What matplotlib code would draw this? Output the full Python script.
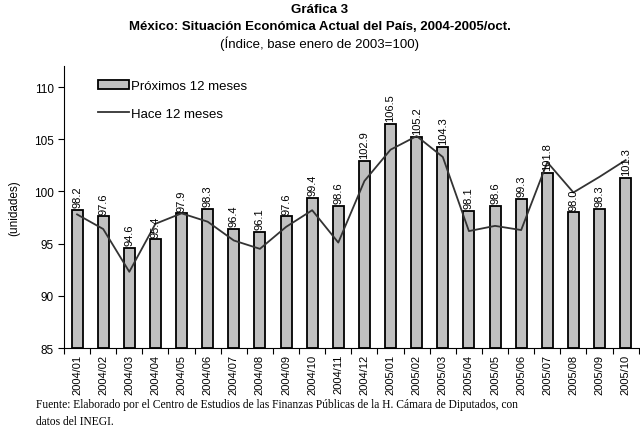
import numpy as np
import matplotlib
matplotlib.use("Agg")
import matplotlib.pyplot as plt
from matplotlib.patches import Patch
from matplotlib.lines import Line2D

plt.rcParams['font.family'] = ['Liberation Sans', 'DejaVu Sans']

# -------------------------------------------------------
# Data
# -------------------------------------------------------
periodos = ['2004/01', '2004/02', '2004/03', '2004/04', '2004/05', '2004/06',
            '2004/07', '2004/08', '2004/09', '2004/10', '2004/11', '2004/12',
            '2005/01', '2005/02', '2005/03', '2005/04', '2005/05', '2005/06',
            '2005/07', '2005/08', '2005/09', '2005/10']
proximos = [98.2, 97.6, 94.6, 95.4, 97.9, 98.3, 96.4, 96.1, 97.6, 99.4, 98.6,
            102.9, 106.5, 105.2, 104.3, 98.1, 98.6, 99.3, 101.8, 98.0, 98.3, 101.3]
hace = [97.8, 96.4, 92.3, 96.9, 97.9, 97.1, 95.3, 94.5, 96.6, 98.2, 95.1,
        101.0, 104.0, 105.3, 103.3, 96.2, 96.7, 96.3, 102.8, 99.9, 101.4, 103.0]
etiquetas = ['98.2', '97.6', '94.6', '95.4', '97.9', '98.3', '96.4', '96.1', '97.6',
             '99.4', '98.6', '102.9', '106.5', '105.2', '104.3', '98.1', '98.6',
             '99.3', '101.8', '98.0', '98.3', '101.3']

# -------------------------------------------------------
# Figure
# -------------------------------------------------------
fig = plt.figure(figsize=(6.4, 4.39), dpi=100)
ax = fig.add_axes([0.1, 0.205, 0.898, 0.642])

x = np.arange(len(periodos))
ax.bar(x, [v - 85 for v in proximos], bottom=85, width=0.42,
       color='#c0c0c0', edgecolor='black', linewidth=1.3, zorder=2)
ax.plot(x, hace, color='#333333', linewidth=1.3, zorder=3)

for xi, v, t in zip(x, proximos, etiquetas):
    ax.annotate(t, (xi, v), xytext=(0, 2), textcoords='offset points',
                rotation=90, ha='center', va='bottom', fontsize=8, zorder=4)

ax.set_xlim(-0.5, len(periodos) - 0.5)
ax.set_ylim(85, 112)
ax.set_yticks([85, 90, 95, 100, 105, 110])
ax.set_xticks(x)
ax.set_xticklabels(periodos, rotation=90, fontsize=8)
ax.set_xticks(np.arange(-0.5, len(periodos), 1), minor=True)
ax.tick_params(axis='x', which='major', length=0, pad=4)
ax.tick_params(axis='x', which='minor', length=4, direction='out', width=0.8)
ax.tick_params(axis='y', length=4, direction='out', width=0.8, labelsize=8.5)

ax.spines['top'].set_visible(False)
ax.spines['right'].set_visible(False)
ax.spines['left'].set_linewidth(0.8)
ax.spines['bottom'].set_linewidth(0.8)

ax.set_ylabel('(unidades)', fontsize=8.5, labelpad=10)

handles = [Patch(facecolor='#c0c0c0', edgecolor='black', linewidth=1.3),
           Line2D([0], [0], color='#333333', linewidth=1.3)]
fig.legend(handles, ['Próximos 12 meses', 'Hace 12 meses'],
           loc='upper left', bbox_to_anchor=(0.145, 0.828), frameon=False,
           fontsize=9.5, handlelength=2.35, handletextpad=0.15,
           labelspacing=1.2, borderaxespad=0)

# Titles
fig.text(0.5, 0.977, 'Gráfica 3', ha='center', va='center', fontsize=9.5, fontweight='bold')
fig.text(0.5, 0.9385, 'México: Situación Económica Actual del País, 2004-2005/oct.',
         ha='center', va='center', fontsize=9.5, fontweight='bold')
fig.text(0.5, 0.9, '(Índice, base enero de 2003=100)', ha='center', va='center', fontsize=9.5)

# Footnote
fig.text(0.056, 0.077, 'Fuente: Elaborado por el Centro de Estudios de las Finanzas Públicas de la H. Cámara de Diputados, con',
         family='Liberation Serif', fontsize=8.3, va='center')
fig.text(0.056, 0.039, 'datos del INEGI.', family='Liberation Serif', fontsize=8.3, va='center')

fig.savefig('out.png', dpi=100)
